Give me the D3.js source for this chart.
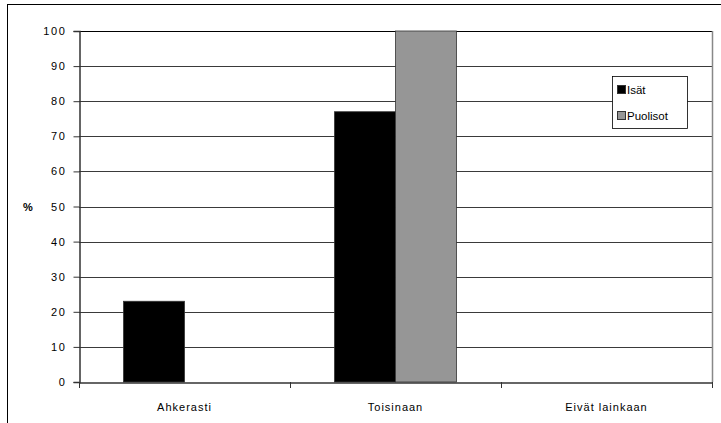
<!DOCTYPE html>
<html><head><meta charset="utf-8">
<script src="https://cdn.jsdelivr.net/npm/d3@7"></script>
<style>body{margin:0;background:#fff}svg{display:block}text{font-family:Arial,"Liberation Sans",sans-serif}</style>
</head><body>
<script>
const categories = ["Ahkerasti", "Toisinaan", "Eivät lainkaan"];
const seriesNames = ["Isät", "Puolisot"];
const isat = [23, 77, 0];
const puolisot = [0, 100, 0];
const yTicks = [0,10,20,30,40,50,60,70,80,90,100];
const colors = ["#000000", "#969696"];

const W = 721, H = 423;
const svg = d3.select("body").append("svg").attr("width", W).attr("height", H);
svg.append("rect").attr("x", 7.5).attr("y", 4.5).attr("width", 730).attr("height", 440)
  .attr("fill", "#fff").attr("stroke", "#000");

const L = 79, R = 712, T = 31, B = 382;
const x0 = d3.scaleBand().domain(categories).range([L, R]).paddingInner(0).paddingOuter(0);
const x1 = d3.scaleBand().domain(seriesNames).range([0, x0.bandwidth()]).paddingInner(0).paddingOuter(0.73);
const y = d3.scaleLinear().domain([0, 100]).range([B, T]);

// gridlines
svg.append("g").selectAll("line").data(yTicks.filter(d => d > 0)).join("line")
  .attr("x1", L).attr("x2", R).attr("y1", d => Math.round(y(d)) + 0.5).attr("y2", d => Math.round(y(d)) + 0.5)
  .attr("stroke", d => d === 100 ? "#000" : "#3a3a3a").attr("stroke-width", 1);
// right border
svg.append("line").attr("x1", R + 0.5).attr("x2", R + 0.5).attr("y1", T).attr("y2", B)
  .attr("stroke", "#888").attr("stroke-width", 1.5);

// bars
const data = categories.map((c, i) => ({c, vals: [isat[i], puolisot[i]]}));
const g = svg.append("g");
data.forEach(d => {
  d.vals.forEach((v, j) => {
    if (v <= 0) return;
    g.append("rect")
      .attr("x", x0(d.c) + x1(seriesNames[j]))
      .attr("y", y(v))
      .attr("width", x1.bandwidth())
      .attr("height", y(0) - y(v))
      .attr("fill", colors[j]).attr("stroke", "#333").attr("stroke-width", 0.8);
  });
});

// y axis
const yAxis = d3.axisLeft(y).tickValues(yTicks).tickSize(6).tickPadding(7);
const ya = svg.append("g").attr("transform", `translate(${L + 0.5},0)`).call(yAxis);
ya.select(".domain").attr("stroke", "#333").attr("stroke-width", 1.5);
ya.selectAll(".tick line").attr("stroke", "#333");
ya.selectAll("text").attr("font-size", 11).attr("letter-spacing", "1.6px").attr("fill", "#000")
  .attr("font-family", "Arial, 'Liberation Sans', sans-serif");

// x axis
const xAxis = d3.axisBottom(x0).tickSize(0).tickPadding(21);
const xa = svg.append("g").attr("transform", `translate(0,${B + 0.5})`).call(xAxis);
xa.select(".domain").attr("stroke", "#333").attr("stroke-width", 1.5);
xa.selectAll("text").attr("font-size", 11).attr("letter-spacing", "1px").attr("fill", "#000")
  .attr("font-family", "Arial, 'Liberation Sans', sans-serif");
// category boundary ticks
svg.append("g").selectAll("line").data(categories.concat(["end"])).join("line")
  .attr("x1", (d, i) => Math.round(i < 3 ? x0(d) : R) + 0.5)
  .attr("x2", (d, i) => Math.round(i < 3 ? x0(d) : R) + 0.5)
  .attr("y1", B).attr("y2", B + 6).attr("stroke", "#333");

// % label
svg.append("text").attr("x", 28).attr("y", y(50) + 4).attr("text-anchor", "middle")
  .attr("font-size", 11).attr("font-weight", "bold").text("%");

// legend
const lg = svg.append("g").attr("transform", "translate(612,76)");
lg.append("rect").attr("x", 0.5).attr("y", 0.5).attr("width", 75).attr("height", 52)
  .attr("fill", "#fff").attr("stroke", "#000").attr("stroke-width", 0.8);
seriesNames.forEach((s, i) => {
  lg.append("rect").attr("x", 5.5).attr("y", 9.5 + i * 26).attr("width", 8).attr("height", 8)
    .attr("fill", colors[i]).attr("stroke", "#333");
  lg.append("text").attr("x", 15).attr("y", 18 + i * 26).attr("font-size", 11.5).text(s);
});
</script>
</body></html>
